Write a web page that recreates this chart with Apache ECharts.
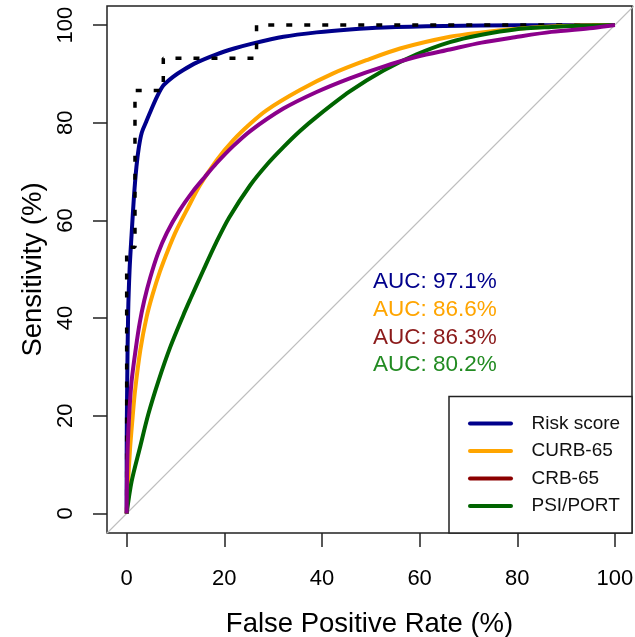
<!DOCTYPE html>
<html>
<head>
<meta charset="utf-8">
<script src="https://cdn.jsdelivr.net/npm/echarts@6/dist/echarts.min.js"></script>
<style>html,body{margin:0;padding:0;background:#fff}#c{width:635px;height:637px}</style>
</head>
<body>
<div id="c"></div>
<script>
// ---- data ----
var tickValues = [0, 20, 40, 60, 80, 100];

var riskFPR = [0, 0, 0.1, 0.3, 0.6, 1.0, 1.5, 2.0, 2.5, 3.1, 4.0, 5.0, 6.2, 7.5, 9.5, 11.6, 14.3, 18.4, 22, 25.3, 32.1, 38.9, 45.7, 52.6, 65, 80, 100];
var riskTPR = [0, 12, 26, 41, 50, 57, 65, 71, 75, 78, 80.2, 82.6, 85.3, 87.6, 89.4, 90.8, 92.3, 94.0, 95.2, 96.1, 97.6, 98.5, 99.1, 99.5, 99.8, 99.95, 100];

var empFPR = [0, 0, 1.7, 1.7, 7.5, 7.5, 26.6, 26.6, 100];
var empTPR = [0, 54.5, 54.5, 86.6, 86.6, 93.2, 93.2, 100, 100];

var curbFPR = [0, 0.2, 0.7, 1.2, 1.7, 2.8, 4.1, 5.3, 6.8, 8.5, 10.2, 12.5, 15.0, 18.4, 21.8, 25.3, 28.7, 35.5, 42.3, 49.1, 56.0, 66.2, 72.7, 79.5, 87, 93, 100];
var curbTPR = [0, 5, 13.4, 19.5, 25, 33.5, 40.3, 44.8, 49.5, 54, 58, 62.5, 67.2, 72.3, 76.4, 79.8, 82.6, 86.7, 90.1, 92.8, 95.2, 97.6, 98.5, 99.2, 99.7, 99.9, 100];

var crbFPR = [0, 0.05, 0.2, 0.5, 1.0, 1.9, 2.7, 3.6, 4.8, 6.4, 8.2, 10.8, 13.6, 16, 18.4, 21.8, 25.3, 32.1, 38.9, 45.7, 52.6, 59.4, 66.2, 72.7, 79.5, 87, 95.5, 100];
var crbTPR = [0, 6, 13.4, 20, 27, 34, 39.2, 43.6, 48.2, 53.2, 57.4, 62.0, 66.0, 68.9, 71.7, 75.2, 78.3, 82.9, 86.3, 89.1, 91.5, 93.5, 95.0, 96.4, 97.5, 98.6, 99.4, 100];

var psiFPR = [0, 1.0, 2.7, 4.4, 6.5, 8.9, 11.6, 13.0, 15.7, 18.4, 21, 25.3, 28.7, 32.1, 35.5, 38.9, 45.7, 52.6, 59.4, 66.2, 72.7, 79.5, 87, 93, 100];
var psiTPR = [0, 6.5, 13.4, 20.2, 27.1, 34.0, 40.6, 43.8, 49.8, 55.6, 60.6, 67.2, 71.4, 75.0, 78.3, 81.2, 86.4, 90.7, 94.0, 96.5, 98.0, 99.1, 99.6, 99.85, 100];

var diagX = [-10, 110];
var diagY = [-10, 110];

var legendNames = ['Risk score', 'CURB-65', 'CRB-65', 'PSI/PORT'];
var legendColors = ['#00008B', '#FFA500', '#8B0000', '#006400'];
var aucLabels = ['AUC: 97.1%', 'AUC: 86.6%', 'AUC: 86.3%', 'AUC: 80.2%'];
var aucColors = ['#00008B', '#FFA500', '#8B1A1A', '#228B22'];

// ---- helpers ----
function pairs(xs, ys) { return xs.map(function (x, i) { return [x, ys[i]]; }); }
var FONT = "'Liberation Sans', Arial, sans-serif";

var chart = echarts.init(document.getElementById('c'), null, { renderer: 'canvas' });

var graphics = [];
// AUC texts
var aucY = [283.5, 311.5, 339, 366];
aucLabels.forEach(function (t, i) {
  graphics.push({ type: 'text', left: 373, top: aucY[i] - 13, z: 100,
    style: { text: t, fill: aucColors[i], font: '22.5px ' + FONT } });
});
// Legend box
graphics.push({ type: 'rect', shape: { x: 449, y: 396.5, width: 183, height: 136.5 }, z: 100,
  style: { fill: '#fff', stroke: '#222', lineWidth: 1.5 } });
var legY = [423.5, 451, 478.5, 506];
legendNames.forEach(function (n, i) {
  graphics.push({ type: 'line', z: 101, shape: { x1: 470, y1: legY[i], x2: 511, y2: legY[i] },
    style: { stroke: legendColors[i], lineWidth: 4, lineCap: 'round' } });
  graphics.push({ type: 'text', z: 101, x: 531.5, y: legY[i],
    style: { text: n, fill: '#111', font: '19px ' + FONT, textVerticalAlign: 'middle', verticalAlign: 'middle' } });
});

var SM = 0.3;
var option = {
  animation: false,
  backgroundColor: '#fff',
  grid: { left: 107, top: 6, width: 525, height: 527, show: true, borderColor: '#222', borderWidth: 1.5,
    backgroundColor: 'transparent', containLabel: false, outerBoundsMode: 'none' },
  xAxis: {
    type: 'value', min: -4.03, max: 103.5,
    name: 'False Positive Rate (%)', nameLocation: 'middle', nameGap: 77,
    nameTextStyle: { fontSize: 27.5, color: '#000', fontFamily: FONT },
    axisLine: { show: false, onZero: false },
    splitLine: { show: false },
    axisTick: { show: true, customValues: tickValues, length: 14, inside: false, lineStyle: { color: '#222', width: 1.5 } },
    axisLabel: { customValues: tickValues, fontSize: 22, color: '#000', fontFamily: FONT, margin: 35 }
  },
  yAxis: {
    type: 'value', min: -4.0, max: 103.9,
    name: 'Sensitivity (%)', nameLocation: 'middle', nameGap: 59,
    nameTextStyle: { fontSize: 27.5, color: '#000', fontFamily: FONT },
    axisLine: { show: false, onZero: false },
    splitLine: { show: false },
    axisTick: { show: true, customValues: tickValues, length: 14, inside: false, lineStyle: { color: '#222', width: 1.5 } },
    axisLabel: { customValues: tickValues, fontSize: 22, color: '#000', fontFamily: FONT, margin: 30, rotate: 90 }
  },
  series: [
    { name: 'diag', type: 'line', data: pairs(diagX, diagY), showSymbol: false, silent: true, z: 1,
      lineStyle: { color: '#BEBEBE', width: 1.2 } },
    { name: 'Risk score', type: 'line', data: pairs(riskFPR, riskTPR), showSymbol: false, z: 2, smooth: SM,
      lineStyle: { color: '#00008B', width: 4 } },
    { name: 'Empirical', type: 'line', data: pairs(empFPR, empTPR), showSymbol: false, z: 3,
      lineStyle: { color: '#000', width: 3.5, type: [6, 12] } },
    { name: 'CURB-65', type: 'line', data: pairs(curbFPR, curbTPR), showSymbol: false, z: 4, smooth: SM,
      lineStyle: { color: '#FFA500', width: 4 } },
    { name: 'PSI/PORT', type: 'line', data: pairs(psiFPR, psiTPR), showSymbol: false, z: 5, smooth: SM,
      lineStyle: { color: '#006400', width: 4 } },
    { name: 'CRB-65', type: 'line', data: pairs(crbFPR, crbTPR), showSymbol: false, z: 6, smooth: SM,
      lineStyle: { color: '#8B008B', width: 4 } }
  ],
  graphic: graphics
};
chart.setOption(option);
</script>
</body>
</html>
